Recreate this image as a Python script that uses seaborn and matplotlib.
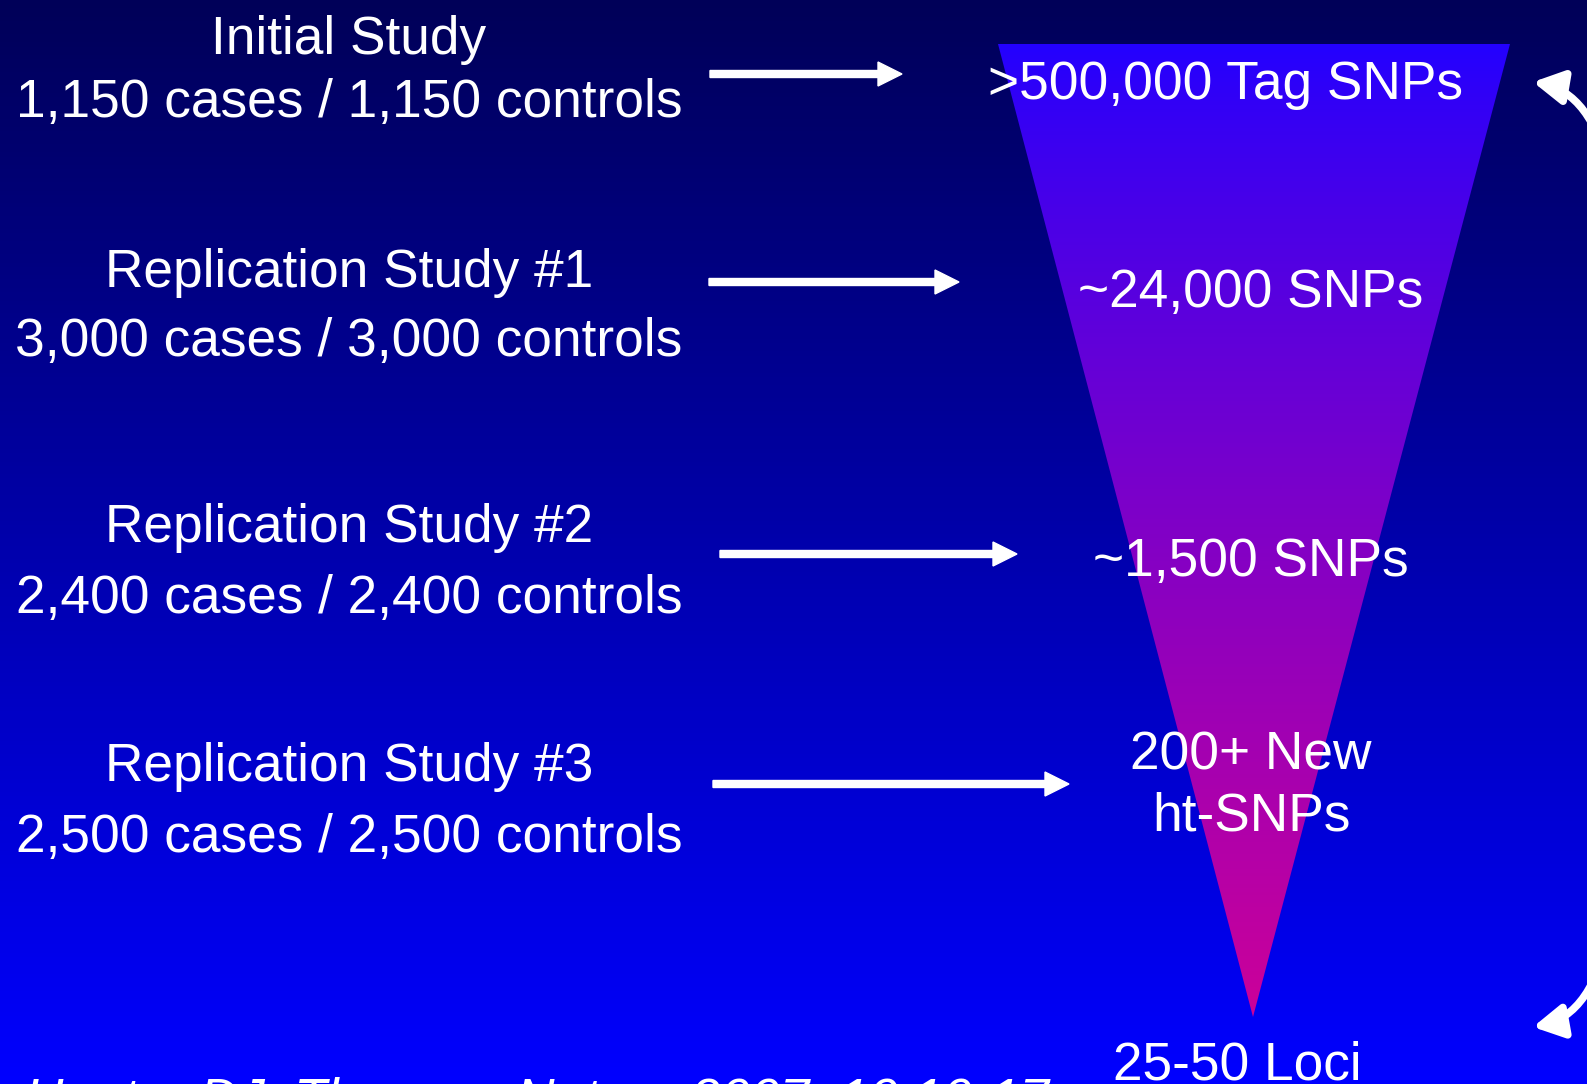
import numpy as np
import seaborn as sns
import matplotlib.pyplot as plt
from matplotlib.patches import Polygon, FancyArrowPatch
from matplotlib.path import Path

# Content of the slide
study_names = ['Initial Study', 'Replication Study #1', 'Replication Study #2', 'Replication Study #3']
sample_sizes = ['1,150 cases / 1,150 controls', '3,000 cases / 3,000 controls',
                '2,400 cases / 2,400 controls', '2,500 cases / 2,500 controls']
snp_labels = ['>500,000 Tag SNPs', '~24,000 SNPs', '~1,500 SNPs', '200+ New\nht-SNPs']
final_label = '25-50 Loci'
citation = 'Hunter DJ, Thomas, Nature 2007; 10:10-17'

# Layout (pixels, y downward)
W, H = 1587, 1084
name_y = [40, 273, 528, 767]
size_y = [103, 342, 599, 838]
arrow_y = [74, 282, 554, 784]
arrow_x0 = [710, 709, 720, 713]
arrow_x1 = [902, 959, 1017, 1069]
snp_x = [1226, 1251, 1251, 1251]
snp_y = [85, 293, 562, 786]

sns.set_theme(style='white')
plt.rcParams['font.family'] = ['Liberation Sans', 'DejaVu Sans']

fig = plt.figure(figsize=(W / 100, H / 100), dpi=100)
ax = fig.add_axes([0, 0, 1, 1])
ax.set_xlim(0, W)
ax.set_ylim(H, 0)
ax.axis('off')

# background gradient: navy top -> pure blue bottom
t = np.linspace(0, 1, 256)[:, None]
top = np.array([0, 0, 88]) / 255
bot = np.array([0, 0, 255]) / 255
bg = (top + (bot - top) * t[..., None]) * np.ones((1, 2, 1))
ax.imshow(bg, extent=[0, W, H, 0], aspect='auto', zorder=0)

# funnel triangle with gradient
tri = Polygon([[998, 44], [1510, 44], [1253, 1017]], closed=True, facecolor='none',
              edgecolor='none')
ax.add_patch(tri)
c_top = np.array([35, 0, 255]) / 255
c_bot = np.array([204, 0, 153]) / 255
tg = (c_top + (c_bot - c_top) * (t ** 0.85)[..., None]) * np.ones((1, 2, 1))
im = ax.imshow(tg, extent=[998, 1510, 1017, 44], aspect='auto', zorder=1)
im.set_clip_path(tri)

txt = dict(color='white', fontsize=38.3, ha='center', va='center', zorder=5)

for name, size, y1, y2 in zip(study_names, sample_sizes, name_y, size_y):
    ax.text(349, y1, name, **txt)
    ax.text(349, y2, size, **txt)

for x0, x1, y in zip(arrow_x0, arrow_x1, arrow_y):
    ax.arrow(x0, y, x1 - x0, 0, width=7, head_width=24, head_length=24,
             length_includes_head=True, color='white', zorder=4)

for lab, x, y in zip(snp_labels, snp_x, snp_y):
    ax.text(x, y, lab, linespacing=1.3, **txt)

ax.text(1237, 1079, final_label, color='white', fontsize=38.3, ha='center',
        va='baseline', zorder=5)
ax.text(25, 1116, citation, color='white', fontsize=38.3, ha='left', va='baseline',
        style='italic', zorder=5)

# curved arrows at right edge (the rest of the arc is off the slide)
curves = [[(1610, 175), (1592, 92), (1533, 82)],
          [(1610, 925), (1594, 1016), (1533, 1027)]]
for pts in curves:
    arr = FancyArrowPatch(path=Path(pts, [Path.MOVETO, Path.CURVE3, Path.CURVE3]),
                          arrowstyle='-|>,head_length=0.9,head_width=0.5',
                          mutation_scale=20, color='white', lw=5.5, zorder=4)
    ax.add_patch(arr)

fig.savefig('out.png', dpi=100)
